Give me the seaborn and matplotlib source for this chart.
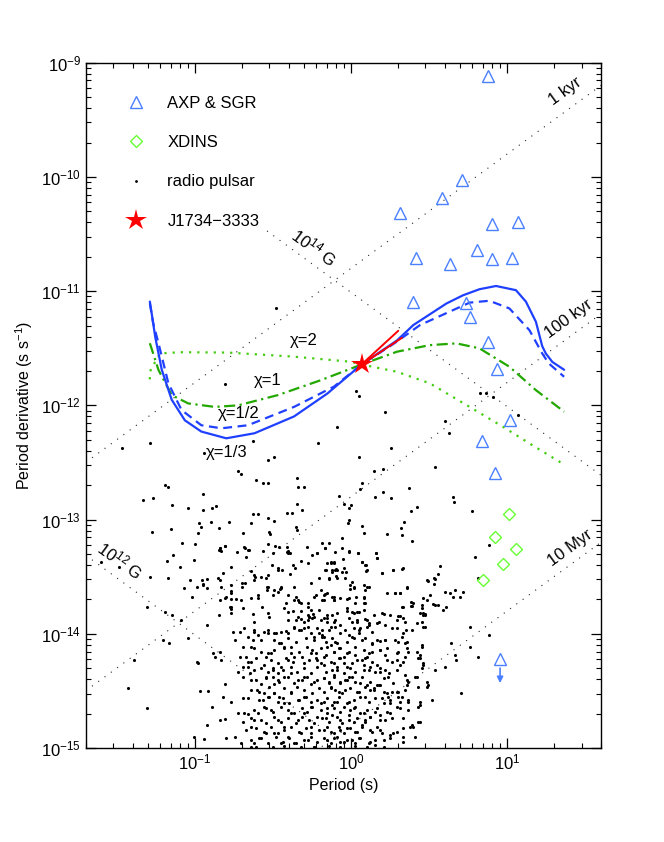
import numpy as np
import pandas as pd
import matplotlib
matplotlib.use("Agg")
import matplotlib.pyplot as plt
from matplotlib.lines import Line2D
from matplotlib.patches import FancyArrowPatch
import seaborn as sns

# ---------------------------------------------------------------
# values
# ---------------------------------------------------------------
# radio pulsars as (log10 P [s], log10 Pdot [s/s]) -- sparse upper part and outliers
radio_psr = [
    (-0.809, -11.813), (0.035, -11.874), (0.049, -11.918), (0.219, -12.055), (-0.088, -12.192),
    (-0.629, -12.309), (-0.211, -12.333), (-0.941, -12.414), (-0.534, -12.478), (-0.491, -12.449),
    (0.049, -12.455), (0.257, -12.376), (0.537, -12.537), (-0.725, -12.572), (-0.703, -12.601),
    (-0.608, -12.654), (-0.565, -12.683), (-0.529, -12.677), (-0.347, -12.639), (-0.339, -12.712),
    (-0.300, -12.718), (0.145, -12.572), (0.208, -12.56), (0.071, -12.677), (0.060, -12.735),
    (0.204, -12.756), (0.155, -12.8), (0.255, -12.814), (0.374, -12.727), (-0.945, -12.776),
    (-0.078, -12.791), (-0.042, -12.864), (0.0, -12.873), (-0.014, -12.902), (-1.043, -12.902),
    (-0.947, -12.916), (-0.89, -12.896), (-0.862, -12.878), (-0.343, -12.864), (-0.311, -12.916),
    (0.382, -12.922), (0.425, -12.887), (0.654, -12.8), (0.658, -12.843), (-0.629, -12.954),
    (-0.593, -12.951), (-0.529, -12.983), (-0.496, -13.01), (-0.41, -12.94), (-0.375, -12.946),
    (-0.975, -13.027), (-0.962, -13.062), (-0.979, -13.115), (-0.898, -13.018), (-0.848, -13.071),
    (-0.778, -13.018), (-0.64, -13.033), (-0.349, -13.062), (-0.347, -13.091), (-0.523, -13.106),
    (-0.517, -13.126), (-0.693, -13.115), (-0.014, -13.004), (-0.021, -13.033), (0.073, -13.054),
    (0.081, -13.115), (0.34, -13.018), (0.319, -13.077), (0.325, -13.135), (0.234, -13.126),
    (-0.057, -13.165), (0.389, -13.188), (-1.085, -13.208), (-0.996, -13.217), (-0.841, -13.252),
    (-0.81, -13.232), (-0.831, -13.272), (-0.682, -13.237), (-0.661, -13.266), (-0.565, -13.272),
    (-0.529, -13.214), (-0.487, -13.229), (-0.459, -13.237), (-0.411, -13.237), (-0.402, -13.272),
    (-0.406, -13.296), (-0.284, -13.237), (-0.22, -13.296), (-0.184, -13.202), (-0.169, -13.252),
    (-0.057, -13.252), (-0.014, -13.281), (0.043, -13.296), (0.162, -13.296), (-0.141, -13.208),
    (-0.48, -11.15), (0.824, -11.895), (0.866, -11.89), (0.908, -11.925), (0.601, -12.135),
    (0.629, -12.245), (1.067, -12.085), (0.777, -12.923), (-1.466, -12.377), (-1.286, -12.326),
    (0.883, -13.226),
    (-1.194, -12.698), (-1.169, -12.718), (-1.334, -12.829), (-1.271, -12.815), (-1.144, -12.873),
    (-1.275, -13.112), (-1.152, -13.086), (-1.137, -13.311), (-1.18, -13.36), (-1.487, -13.419),
    (-1.599, -13.372), (-1.286, -13.5), (-1.173, -13.509), (-1.095, -13.419), (-1.031, -13.53),
    (-1.004, -13.355), (-0.957, -13.53), (-0.989, -13.588), (-0.946, -13.573), (-1.069, -13.603),
    (-1.021, -13.676), (-1.144, -13.836), (-1.088, -13.88), (-1.307, -13.763), (-1.19, -13.807),
    (-1.046, -14.04), (-0.925, -13.924), (-0.845, -13.836), (-0.766, -13.822), (-0.77, -13.763),
    (-0.804, -13.69), (-0.838, -13.53), (-0.834, -13.588), (-0.698, -13.588), (-0.681, -13.559),
    (-0.622, -13.53), (-0.575, -13.5), (-0.533, -13.486), (-0.465, -13.442), (-0.448, -13.603),
    (-0.766, -13.646), (-0.703, -13.705), (-0.639, -13.69), (-0.597, -13.661), (-0.537, -13.588),
    (-0.49, -13.617), (-0.406, -13.661), (-0.363, -13.705), (-0.321, -13.734), (-0.278, -13.763),
    (-0.236, -13.676), (-0.204, -13.792), (-1.392, -14.23), (-1.428, -14.478), (-1.307, -14.647),
    (-1.201, -14.055), (-1.165, -14.084), (-0.989, -14.245), (-0.978, -14.259), (-0.883, -14.172),
    (-0.872, -14.201), (-0.84, -14.157), (-0.83, -14.23), (-0.968, -14.499), (-0.915, -14.499),
    (-0.889, -14.645), (-0.919, -14.8), (-1.004, -14.902), (-0.94, -14.925), (-0.84, -14.756),
    (-0.809, -14.75), (-0.804, -14.435), (-0.819, -14.551), (-0.755, -13.982), (-0.713, -13.982),
    (-0.745, -14.055), (-0.713, -14.201), (-0.692, -14.288), (-0.724, -14.332), (-0.66, -14.245),
    (-0.639, -14.405), (-0.645, -14.347), (-0.692, -14.566), (-0.724, -14.697), (-0.766, -14.595),
    (-0.66, -14.702), (-0.643, -14.814), (-0.618, -14.756), (-0.597, -14.69), (-0.554, -14.639),
    (-0.512, -14.668), (-0.586, -14.58), (-0.56, -14.522), (-0.522, -14.551), (-0.49, -14.515),
    (-0.601, -14.493), (-0.575, -14.435), (-0.543, -14.376), (-0.495, -14.44), (-0.618, -14.318),
    (-0.554, -14.274), (-0.501, -14.318), (-0.448, -14.288), (-0.533, -14.172), (-0.49, -14.143),
    (-0.427, -14.114), (-0.384, -14.172), (-0.575, -14.055), (-0.533, -13.997), (-0.49, -13.99),
    (-0.448, -14.084), (-0.639, -14.114), (-0.618, -13.982), (-0.406, -13.997), (-0.363, -13.938),
    (-0.321, -13.968), (-0.278, -13.938), (-0.236, -14.026), (-0.204, -13.997), (-0.406, -13.88),
    (-0.342, -13.851), (-0.278, -13.88), (-0.236, -13.851), (-0.469, -14.405), (-0.427, -14.376),
    (-0.384, -14.347), (-0.342, -14.405), (-0.3, -14.376), (-0.257, -14.435), (-0.215, -14.405),
    (-0.406, -14.23), (-0.363, -14.201), (-0.3, -14.259), (-0.257, -14.172), (-0.215, -14.23),
    (-0.459, -14.551), (-0.427, -14.61), (-0.384, -14.522), (-0.342, -14.58), (-0.3, -14.551),
    (-0.257, -14.639), (-0.215, -14.58), (-0.469, -14.756), (-0.427, -14.814), (-0.384, -14.697),
    (-0.342, -14.756), (-0.3, -14.697), (-0.257, -14.814), (-0.215, -14.726), (-0.49, -14.872),
    (-0.448, -14.96), (-0.406, -14.902), (-0.363, -14.96), (-0.321, -14.872), (-0.278, -14.93),
    (-0.236, -14.989), (-0.586, -14.916), (-0.543, -14.872), (-0.618, -14.96), (-0.639, -14.989),
    (-0.798, -14.916), (-0.745, -14.902), (-0.703, -14.96),
    (0.166, -13.34), (-0.131, -13.369), (-0.109, -13.384), (-0.162, -13.442), (-0.099, -13.442),
    (-0.12, -13.457), (-0.046, -13.427), (-0.035, -13.515), (-0.088, -13.515), (-0.141, -13.515),
    (0.071, -13.369), (0.103, -13.442), (0.092, -13.398), (0.198, -13.471), (0.272, -13.442),
    (0.332, -13.427), (0.007, -13.544), (-0.003, -13.573), (0.018, -13.588), (0.081, -13.573),
    (0.113, -13.588), (-0.173, -13.661), (-0.184, -13.705), (-0.109, -13.705), (-0.12, -13.675),
    (-0.067, -13.69), (-0.014, -13.69), (0.028, -13.734), (0.039, -13.807), (0.007, -13.807),
    (-0.025, -13.778), (0.081, -13.675), (0.092, -13.734), (0.081, -13.792), (0.23, -13.646),
    (0.283, -13.646), (0.315, -13.646), (0.357, -13.597), (0.484, -13.529), (0.533, -13.515),
    (0.531, -13.567), (0.573, -13.404), (0.601, -13.632), (0.633, -13.646), (0.669, -13.617),
    (0.718, -13.632), (0.696, -13.675), (0.463, -13.69), (0.453, -13.748), (0.463, -13.836),
    (0.474, -13.83), (0.332, -13.763), (0.383, -13.725), (0.383, -13.754), (0.537, -13.748),
    (0.59, -13.792), (0.612, -13.763), (0.654, -13.675), (0.251, -13.836), (0.304, -13.842),
    (0.198, -13.821), (0.166, -13.903), (0.219, -13.923), (0.336, -13.865), (0.298, -13.953),
    (0.353, -13.967), (0.421, -13.909), (0.474, -13.938), (0.76, -13.938), (0.792, -13.325),
    (-0.173, -13.865), (-0.152, -13.894), (-0.131, -13.938), (-0.184, -13.967), (-0.109, -13.894),
    (-0.067, -13.923), (-0.035, -13.967), (0.007, -13.894), (0.039, -13.88), (0.06, -13.953),
    (0.103, -13.88), (0.113, -13.923), (-0.014, -14.011), (0.018, -14.04), (0.05, -13.997),
    (0.092, -14.04), (-0.099, -14.069), (-0.173, -14.026), (-0.131, -14.099), (-0.078, -14.128),
    (0.135, -14.093), (0.166, -14.055), (0.219, -14.055), (0.188, -14.142), (0.135, -14.157),
    (0.219, -14.186), (0.304, -14.069), (0.346, -14.084), (0.294, -14.172), (0.368, -14.157),
    (0.346, -14.201), (0.453, -14.099), (0.442, -14.186), (0.432, -14.215), (0.463, -14.274),
    (0.643, -14.084), (0.665, -14.186), (0.675, -14.23), (0.76, -14.113), (0.813, -14.201),
    (-0.162, -14.186), (-0.109, -14.157), (-0.067, -14.215), (-0.046, -14.259), (-0.025, -14.288),
    (-0.109, -14.259), (-0.173, -14.274), (-0.088, -14.318), (-0.014, -14.157), (0.028, -14.186),
    (0.071, -14.23), (0.103, -14.201), (0.081, -14.274), (0.113, -14.318), (0.166, -14.274),
    (0.188, -14.332), (0.219, -14.318), (0.24, -14.376), (0.262, -14.245), (0.294, -14.23),
    (0.315, -14.274), (0.346, -14.361), (0.368, -14.42), (0.357, -14.449), (0.421, -14.376),
    (0.484, -14.464), (0.537, -14.318), (0.601, -14.288), (0.707, -14.522), (-0.173, -14.391),
    (-0.141, -14.42), (-0.109, -14.361), (-0.067, -14.434), (-0.035, -14.405), (-0.014, -14.376),
    (-0.131, -14.478), (-0.078, -14.507), (-0.035, -14.493), (0.028, -14.42), (0.071, -14.376),
    (0.103, -14.449), (0.05, -14.507), (0.124, -14.493), (0.092, -14.551), (0.145, -14.478),
    (0.177, -14.449), (0.209, -14.507), (0.24, -14.551), (0.262, -14.507), (0.198, -14.566),
    (0.304, -14.507), (0.325, -14.551), (0.368, -14.58), (0.251, -14.61), (0.315, -14.595),
    (0.431, -14.639), (0.442, -14.595), (-0.173, -14.595), (-0.152, -14.653), (-0.12, -14.624),
    (-0.088, -14.595), (-0.046, -14.639), (-0.014, -14.595), (0.018, -14.653), (-0.162, -14.741),
    (-0.12, -14.712), (-0.067, -14.755), (-0.014, -14.712), (0.018, -14.77), (0.06, -14.697),
    (0.092, -14.755), (0.124, -14.726), (0.156, -14.683), (0.188, -14.712), (0.219, -14.755),
    (0.251, -14.697), (0.315, -14.653), (0.336, -14.741), (0.378, -14.814), (0.4, -14.814),
    (0.431, -14.77), (-0.173, -14.843), (-0.131, -14.858), (-0.078, -14.814), (-0.046, -14.872),
    (-0.003, -14.828), (0.039, -14.858), (0.071, -14.799), (0.124, -14.843), (0.166, -14.814),
    (0.198, -14.872), (0.251, -14.887), (0.294, -14.858), (0.336, -14.901), (-0.152, -14.93),
    (-0.109, -14.916), (-0.067, -14.945), (-0.025, -14.93), (0.028, -14.96), (0.06, -14.916),
    (0.124, -14.945), (0.156, -14.974), (0.209, -14.93), (0.516, -14.58), (0.813, -13.515),
    (0.883, -14.011),
]

# radio pulsars, second reading of the band 1e-13.2 .. 1e-13.9
radio_psr_mid = [
    (-0.847, -13.267), (-0.836, -13.246), (-0.804, -13.232), (-0.728, -13.287), (-0.677, -13.246),
    (-0.656, -13.267), (-0.675, -13.331), (-0.499, -13.296), (-0.41, -13.281), (-0.389, -13.29),
    (-0.168, -13.252), (-0.215, -13.29), (-0.247, -13.311), (-0.105, -13.287), (-0.013, -13.273),
    (0.046, -13.296), (-0.049, -13.349), (0.158, -13.296), (0.167, -13.34), (-0.766, -13.413),
    (-0.851, -13.512), (-0.925, -13.521), (-0.946, -13.565), (-0.821, -13.465), (-0.643, -13.451),
    (-0.618, -13.486), (-0.613, -13.506), (-0.507, -13.398), (-0.465, -13.427), (-0.444, -13.442),
    (-0.544, -13.512), (-0.374, -13.401), (-0.357, -13.427), (-0.389, -13.477), (-0.321, -13.366),
    (-0.278, -13.378), (-0.151, -13.384), (-0.13, -13.378), (-0.109, -13.375), (-0.122, -13.442),
    (-0.098, -13.436), (-0.088, -13.442), (-0.168, -13.442), (-0.141, -13.524), (-0.056, -13.462),
    (-0.03, -13.462), (-0.098, -13.495), (-0.204, -13.515), (-0.257, -13.559), (0.071, -13.375),
    (0.097, -13.401), (0.099, -13.448), (0.199, -13.471), (0.269, -13.445), (0.33, -13.43),
    (0.491, -13.535), (0.538, -13.518), (0.555, -13.477), (-0.77, -13.573), (-0.766, -13.629),
    (-0.698, -13.559), (-0.734, -13.699), (-0.77, -13.693), (-0.802, -13.675), (-0.84, -13.705),
    (-0.925, -13.603), (-0.777, -13.763), (-0.766, -13.786), (-0.692, -13.778), (-0.597, -13.69),
    (-0.571, -13.763), (-0.533, -13.594), (-0.539, -13.617), (-0.501, -13.661), (-0.457, -13.611),
    (-0.448, -13.594), (-0.469, -13.635), (-0.416, -13.728), (-0.427, -13.778), (-0.368, -13.594),
    (-0.353, -13.675), (-0.336, -13.705), (-0.331, -13.719), (-0.278, -13.734), (-0.257, -13.792),
    (-0.225, -13.661), (-0.189, -13.617), (-0.168, -13.652), (-0.155, -13.646), (-0.172, -13.705),
    (-0.109, -13.675), (-0.109, -13.705), (-0.024, -13.699), (-0.003, -13.608), (0.018, -13.6),
    (0.033, -13.681), (0.088, -13.617), (0.103, -13.594), (0.086, -13.69), (0.086, -13.728),
    (0.283, -13.64), (0.315, -13.646), (0.358, -13.594), (0.4, -13.728), (0.394, -13.757),
    (0.326, -13.763), (0.453, -13.778), (0.464, -13.821), (0.485, -13.705), (0.506, -13.661),
    (0.527, -13.74), (0.559, -13.748), (-0.628, -13.83), (-0.533, -13.821), (-0.406, -13.81),
    (-0.374, -13.801), (-0.321, -13.801), (-0.278, -13.836), (-0.268, -13.851), (-0.24, -13.827),
    (-0.151, -13.836), (-0.119, -13.836), (-0.088, -13.821), (-0.024, -13.801), (0.018, -13.816),
    (0.05, -13.81), (0.146, -13.836), (0.209, -13.83), (0.315, -13.845), (0.442, -13.821),
]

# radio pulsars, second reading of the dense core below 1e-13.8
radio_psr_core = [
    (-0.618, -13.894), (-0.523, -13.851), (-0.353, -13.88), (-0.321, -13.871), (-0.300, -13.894),
    (-0.268, -13.851), (-0.247, -13.865), (-0.194, -13.88), (-0.152, -13.865), (-0.099, -13.88),
    (-0.014, -13.859), (0.039, -13.894), (0.092, -13.871), (0.113, -13.909), (0.177, -13.9),
    (0.294, -13.88), (0.347, -13.894), (0.453, -13.894), (0.474, -13.836),
    (-0.682, -13.953), (-0.618, -13.967), (-0.555, -13.982), (-0.533, -13.967), (-0.48, -13.997),
    (-0.449, -13.982), (-0.417, -13.976), (-0.364, -13.953), (-0.332, -13.967), (-0.3, -13.953),
    (-0.258, -13.997), (-0.215, -13.953), (-0.183, -14.011), (-0.141, -13.967), (-0.099, -13.938),
    (-0.067, -13.997), (0.018, -13.953), (0.05, -13.967), (0.103, -13.938), (0.135, -13.982),
    (0.262, -13.953), (0.336, -13.997), (0.389, -13.967), (0.463, -13.938),
    (-0.661, -14.026), (-0.629, -14.055), (-0.597, -14.011), (-0.491, -14.055), (-0.459, -14.084),
    (-0.406, -14.04), (-0.353, -14.07), (-0.29, -14.04), (-0.237, -14.055), (-0.183, -14.026),
    (-0.162, -14.07), (-0.12, -14.04), (-0.088, -14.084), (-0.024, -14.07), (0.007, -14.026),
    (0.071, -14.055), (0.135, -14.084), (0.188, -14.064), (0.219, -14.055), (0.283, -14.055),
    (0.325, -14.026), (0.357, -14.07), (0.453, -14.113),
    (-0.692, -14.113), (-0.618, -14.128), (-0.576, -14.157), (-0.512, -14.172), (-0.427, -14.128),
    (-0.385, -14.113), (-0.332, -14.157), (-0.279, -14.113), (-0.247, -14.142), (-0.226, -14.172),
    (-0.194, -14.128), (-0.152, -14.113), (-0.109, -14.157), (-0.067, -14.128), (-0.024, -14.172),
    (0.029, -14.113), (0.082, -14.142), (0.113, -14.172), (0.188, -14.142), (0.23, -14.128),
    (0.304, -14.157), (0.357, -14.128), (0.421, -14.157),
    (-0.671, -14.201), (-0.639, -14.245), (-0.608, -14.215), (-0.544, -14.201), (-0.512, -14.23),
    (-0.47, -14.259), (-0.417, -14.215), (-0.374, -14.245), (-0.311, -14.201), (-0.268, -14.23),
    (-0.226, -14.215), (-0.194, -14.259), (-0.173, -14.201), (-0.13, -14.245), (-0.077, -14.215),
    (-0.046, -14.201), (0.007, -14.259), (0.039, -14.23), (0.092, -14.215), (0.135, -14.245),
    (0.23, -14.23), (0.336, -14.245), (0.442, -14.215), (0.463, -14.259),
    (-0.661, -14.288), (-0.576, -14.303), (-0.533, -14.332), (-0.502, -14.303), (-0.47, -14.347),
    (-0.438, -14.318), (-0.385, -14.288), (-0.343, -14.332), (-0.3, -14.303), (-0.258, -14.347),
    (-0.215, -14.288), (-0.162, -14.332), (-0.12, -14.318), (-0.088, -14.288), (-0.046, -14.347),
    (-0.003, -14.303), (0.029, -14.332), (0.082, -14.318), (0.124, -14.288), (0.156, -14.332),
    (0.188, -14.303), (0.241, -14.347), (0.294, -14.318), (0.453, -14.303),
    (-0.692, -14.376), (-0.608, -14.405), (-0.544, -14.391), (-0.502, -14.376), (-0.459, -14.42),
    (-0.406, -14.376), (-0.364, -14.434), (-0.311, -14.405), (-0.279, -14.376), (-0.237, -14.42),
    (-0.173, -14.391), (-0.141, -14.434), (-0.109, -14.376), (-0.067, -14.42), (-0.024, -14.405),
    (0.007, -14.376), (0.06, -14.434), (0.124, -14.42), (0.166, -14.449), (0.209, -14.391),
    (0.272, -14.434), (0.357, -14.405), (0.41, -14.376), (0.484, -14.42),
    (-0.639, -14.493), (-0.586, -14.507), (-0.523, -14.464), (-0.491, -14.522), (-0.427, -14.478),
    (-0.385, -14.507), (-0.343, -14.464), (-0.3, -14.493), (-0.247, -14.522), (-0.205, -14.478),
    (-0.173, -14.507), (-0.13, -14.464), (-0.099, -14.493), (-0.056, -14.522), (-0.003, -14.478),
    (0.039, -14.507), (0.092, -14.464), (0.145, -14.493), (0.188, -14.449), (0.23, -14.522),
    (0.294, -14.507), (0.347, -14.493), (0.431, -14.464), (0.495, -14.449),
    (-0.661, -14.566), (-0.565, -14.58), (-0.533, -14.551), (-0.47, -14.595), (-0.438, -14.566),
    (-0.396, -14.61), (-0.332, -14.58), (-0.29, -14.551), (-0.258, -14.595), (-0.194, -14.61),
    (-0.152, -14.566), (-0.109, -14.595), (-0.077, -14.551), (-0.024, -14.61), (0.018, -14.58),
    (0.06, -14.551), (0.113, -14.595), (0.156, -14.566), (0.209, -14.61), (0.251, -14.58),
    (0.304, -14.551), (0.368, -14.595), (0.442, -14.624),
    (-0.682, -14.697), (-0.618, -14.668), (-0.544, -14.653), (-0.502, -14.682), (-0.449, -14.639),
    (-0.406, -14.668), (-0.364, -14.697), (-0.311, -14.653), (-0.279, -14.682), (-0.247, -14.639),
    (-0.194, -14.668), (-0.152, -14.697), (-0.109, -14.653), (-0.067, -14.682), (-0.003, -14.668),
    (0.029, -14.639), (0.082, -14.697), (0.103, -14.668), (0.166, -14.653), (0.23, -14.682),
    (0.294, -14.639), (0.368, -14.668),
    (-0.692, -14.77), (-0.639, -14.741), (-0.576, -14.755), (-0.544, -14.785), (-0.491, -14.726),
    (-0.449, -14.77), (-0.406, -14.741), (-0.353, -14.785), (-0.311, -14.726), (-0.268, -14.755),
    (-0.237, -14.785), (-0.183, -14.741), (-0.141, -14.77), (-0.088, -14.726), (-0.056, -14.785),
    (-0.014, -14.755), (0.039, -14.741), (0.092, -14.77), (0.124, -14.726), (0.188, -14.755),
    (0.262, -14.741), (0.389, -14.799), (0.442, -14.77),
    (-0.671, -14.843), (-0.608, -14.828), (-0.555, -14.858), (-0.512, -14.814), (-0.47, -14.872),
    (-0.427, -14.843), (-0.385, -14.814), (-0.332, -14.858), (-0.29, -14.828), (-0.258, -14.872),
    (-0.205, -14.843), (-0.152, -14.814), (-0.109, -14.872), (-0.067, -14.843), (-0.024, -14.828),
    (0.029, -14.858), (0.071, -14.814), (0.135, -14.858), (0.188, -14.843), (0.272, -14.872),
    (0.336, -14.828),
    (-0.639, -14.931), (-0.576, -14.916), (-0.533, -14.96), (-0.48, -14.901), (-0.438, -14.945),
    (-0.396, -14.916), (-0.353, -14.96), (-0.3, -14.931), (-0.258, -14.901), (-0.215, -14.945),
    (-0.173, -14.916), (-0.13, -14.96), (-0.088, -14.901), (-0.046, -14.945), (0.007, -14.931),
    (0.05, -14.916), (0.113, -14.96), (0.156, -14.931), (0.251, -14.916), (0.336, -14.945),
    (0.41, -14.901),
    (-0.608, -14.989), (-0.502, -14.995), (-0.427, -14.98), (-0.321, -14.989), (-0.237, -14.995),
    (-0.141, -14.983), (-0.067, -14.992), (0.029, -14.98), (0.103, -14.995), (0.209, -14.989),
]

# magnetars (AXP & SGR)
axp_p = [7.53, 5.17, 3.82, 2.07, 7.98, 11.7, 2.61, 4.34, 6.44, 7.98,
         10.8, 2.49, 5.49, 5.76, 7.53, 8.63, 10.5, 6.93, 8.39]
axp_pdot = [7.6e-10, 9.4e-11, 6.5e-11, 4.8e-11, 3.9e-11, 4.0e-11, 1.94e-11, 1.73e-11, 2.29e-11, 1.91e-11,
            1.95e-11, 8.1e-12, 7.9e-12, 5.9e-12, 3.6e-12, 2.07e-12, 7.4e-13, 4.9e-13, 2.54e-13]
axp_limit_p, axp_limit_pdot = 9.02, 6.0e-15

# XDINS
xdins_p = [10.31, 8.39, 11.37, 9.43, 7.06]
xdins_pdot = [1.12e-13, 6.98e-14, 5.5e-14, 4.1e-14, 2.97e-14]

# J1734-3333 and its two direction segments
star_p, star_pdot = 1.169, 2.28e-12
seg_end_p = [2.01, 2.12]
seg_end_pdot = [4.5e-12, 3.9e-12]

# evolutionary tracks
chi13_p = [0.0515, 0.0535, 0.0557, 0.0614, 0.0711, 0.0863, 0.110, 0.159, 0.241, 0.432, 0.706, 1.17,
           1.97, 2.51, 4.09, 5.22, 6.66, 8.5, 11.4, 13.2, 15.3, 16.8, 17.7, 19.5, 23.2]
chi13_pdot = [8.1e-12, 5.8e-12, 4.0e-12, 2.05e-12, 1.12e-12, 7.4e-13, 5.9e-13, 5.15e-13, 5.7e-13, 8.0e-13,
              1.27e-12, 2.28e-12, 3.7e-12, 5.05e-12, 7.8e-12, 9.2e-12, 1.04e-11, 1.11e-11, 1.02e-11,
              8.1e-12, 5.4e-12, 3.3e-12, 2.85e-12, 2.4e-12, 2.05e-12]
chi12_p = [0.0515, 0.054, 0.0585, 0.0677, 0.0822, 0.110, 0.148, 0.219, 0.432, 0.778, 1.17, 1.9,
           2.77, 5.76, 7.7, 10.35, 13.9, 16.8, 18.5, 23.2]
chi12_pdot = [7.8e-12, 5.3e-12, 3.5e-12, 1.56e-12, 9.1e-13, 6.7e-13, 6.3e-13, 6.7e-13, 9.7e-13, 1.46e-12,
              2.28e-12, 3.5e-12, 5.05e-12, 7.94e-12, 8.24e-12, 7.06e-12, 4.56e-12, 2.85e-12, 2.33e-12, 1.78e-12]
chi1_p = [0.0515, 0.0585, 0.0711, 0.0908, 0.134, 0.189, 0.340, 0.640, 1.17, 1.97, 3.2, 4.74,
          6.65, 10.35, 15.3, 23.2]
chi1_pdot = [3.5e-12, 2.04e-12, 1.23e-12, 1.04e-12, 9.7e-13, 1.0e-12, 1.23e-12, 1.66e-12, 2.28e-12,
             2.95e-12, 3.37e-12, 3.49e-12, 3.16e-12, 2.18e-12, 1.36e-12, 8.8e-13]
chi2_p = [0.0515, 0.0515, 0.0535, 0.0599, 0.08, 0.163, 0.432, 1.0, 1.17, 1.97, 3.2, 5.76,
          9.4, 13.9, 22.6]
chi2_pdot = [1.69e-12, 1.97e-12, 2.18e-12, 2.85e-12, 2.92e-12, 2.9e-12, 2.67e-12, 2.41e-12, 2.28e-12,
             1.97e-12, 1.56e-12, 9.7e-13, 6.5e-13, 4.65e-13, 3.1e-13]

# reference lines: characteristic age and dipole field
ages_yr = [1e3, 1e5, 1e7]
age_labels = ["1 kyr", "100 kyr", "10 Myr"]
fields_g = [1e14, 1e12]
field_p_range = [(0.29, 40.0), (0.02, 1.0)]
field_labels = [r"$10^{14}$ G", r"$10^{12}$ G"]

# colours
c_tri = "#4a80ff"
c_dia = "#66ff33"
c_blue = "#2040ff"
c_green = "#22a800"
c_lgreen = "#44cc11"

# ---------------------------------------------------------------
sns.set_style("ticks")
plt.rcParams["font.family"] = ["Liberation Sans", "DejaVu Sans"]
plt.rcParams["mathtext.fontset"] = "custom"
plt.rcParams["mathtext.rm"] = "Liberation Sans"
plt.rcParams["mathtext.it"] = "Liberation Sans:italic"
plt.rcParams["mathtext.bf"] = "Liberation Sans:bold"
for key in ["text.color", "axes.labelcolor", "xtick.color", "ytick.color", "axes.edgecolor"]:
    plt.rcParams[key] = "black"

fig = plt.figure(figsize=(6.64, 8.42), dpi=100)
ax = fig.add_axes([0.1291, 0.1116, 0.7761, 0.8139])
ax.set_xscale("log")
ax.set_yscale("log")
ax.set_xlim(0.02, 40)
ax.set_ylim(1e-15, 1e-9)

# age and field lines
p_span = np.array([0.02, 40.0])
yr = 3.156e7
for tau in ages_yr:
    ax.plot(p_span, p_span / (2 * tau * yr), ls=(0, (1, 6)), lw=0.8, color="0.15", zorder=1)
for b, (p0, p1) in zip(fields_g, field_p_range):
    pp = np.array([p0, p1])
    ax.plot(pp, (b / 3.2e19) ** 2 / pp, ls=(0, (1, 6)), lw=0.8, color="0.15", zorder=1)

# radio pulsars
psr = pd.DataFrame(radio_psr + radio_psr_mid + radio_psr_core, columns=["logP", "logPdot"])
psr["P"] = 10 ** psr["logP"]
psr["Pdot"] = 10 ** psr["logPdot"]
sns.scatterplot(data=psr, x="P", y="Pdot", s=5, color="k", linewidth=0, ax=ax, zorder=2, legend=False)

# tracks
ax.plot(chi2_p, chi2_pdot, ls=(0, (1, 2.7)), lw=1.6, color=c_lgreen, zorder=3)
ax.plot(chi1_p, chi1_pdot, ls=(0, (5, 2, 1, 2)), lw=1.6, color=c_green, zorder=3)
ax.plot(chi13_p, chi13_pdot, ls="-", lw=1.6, color=c_blue, zorder=4)
ax.plot(chi12_p, chi12_pdot, ls=(0, (4, 2.5)), lw=1.6, color=c_blue, zorder=4)

# magnetars and XDINS
ax.plot(axp_p, axp_pdot, ls="none", marker="^", ms=8, mfc="none", mec=c_tri, mew=1.0, zorder=5)
ax.plot([axp_limit_p], [axp_limit_pdot], ls="none", marker="^", ms=8, mfc="none", mec=c_tri,
        mew=1.0, zorder=5)
ax.add_patch(FancyArrowPatch((axp_limit_p, 5.3e-15), (axp_limit_p, 3.5e-15), arrowstyle="-|>",
                             mutation_scale=9, color=c_tri, lw=1.2, zorder=5))
ax.plot(xdins_p, xdins_pdot, ls="none", marker="D", ms=6.5, mfc="none", mec=c_dia, mew=1.0, zorder=5)

# J1734-3333
for ep, ed in zip(seg_end_p, seg_end_pdot):
    ax.plot([star_p, ep], [star_pdot, ed], color="red", lw=1.4, zorder=6)
ax.plot([star_p], [star_pdot], ls="none", marker="*", ms=16, color="red", mew=0, zorder=7)

# labels on the reference lines
ax.text(23.7, 5.57e-10, age_labels[0], rotation=36, ha="center", va="center", fontsize=12)
ax.text(24.9, 5.78e-12, age_labels[1], rotation=36, ha="center", va="center", fontsize=12)
ax.text(25.5, 5.6e-14, age_labels[2], rotation=36, ha="center", va="center", fontsize=12)
ax.text(0.58, 2.45e-11, field_labels[0], rotation=-36, ha="center", va="center", fontsize=12)
ax.text(0.0333, 4.42e-14, field_labels[1], rotation=-36, ha="center", va="center", fontsize=12)

ax.text(0.50, 3.71e-12, "χ=2", ha="center", va="center", fontsize=12)
ax.text(0.294, 1.66e-12, "χ=1", ha="center", va="center", fontsize=12)
ax.text(0.19, 8.57e-13, "χ=1/2", ha="center", va="center", fontsize=12)
ax.text(0.159, 3.89e-13, "χ=1/3", ha="center", va="center", fontsize=12)

# legend
handles = [
    Line2D([], [], ls="none", marker="^", ms=8, mfc="none", mec=c_tri, mew=1.0),
    Line2D([], [], ls="none", marker="D", ms=6.5, mfc="none", mec=c_dia, mew=1.0),
    Line2D([], [], ls="none", marker="o", ms=2, color="k", mew=0),
    Line2D([], [], ls="none", marker="*", ms=16, color="red", mew=0),
]
labels = ["AXP & SGR", "XDINS", "radio pulsar", "J1734\u22123333"]
ax.legend(handles, labels, loc="upper left", bbox_to_anchor=(0, 1), frameon=False, fontsize=12,
          borderpad=2.0, borderaxespad=0, labelspacing=1.45, handletextpad=0.9, handlelength=2.0,
          numpoints=1)

# axes styling
ax.tick_params(which="both", direction="in", top=True, right=True, labelsize=12)
ax.tick_params(which="major", length=7, width=0.9)
ax.tick_params(which="minor", length=3.5, width=0.8)
for sp in ax.spines.values():
    sp.set_linewidth(1.0)
ax.set_xlabel("Period (s)", fontsize=11.5, labelpad=4)
ax.set_ylabel(r"Period derivative (s s$^{-1}$)", fontsize=11.5, labelpad=4)

fig.savefig("out.png", dpi=100)
plt.close(fig)
